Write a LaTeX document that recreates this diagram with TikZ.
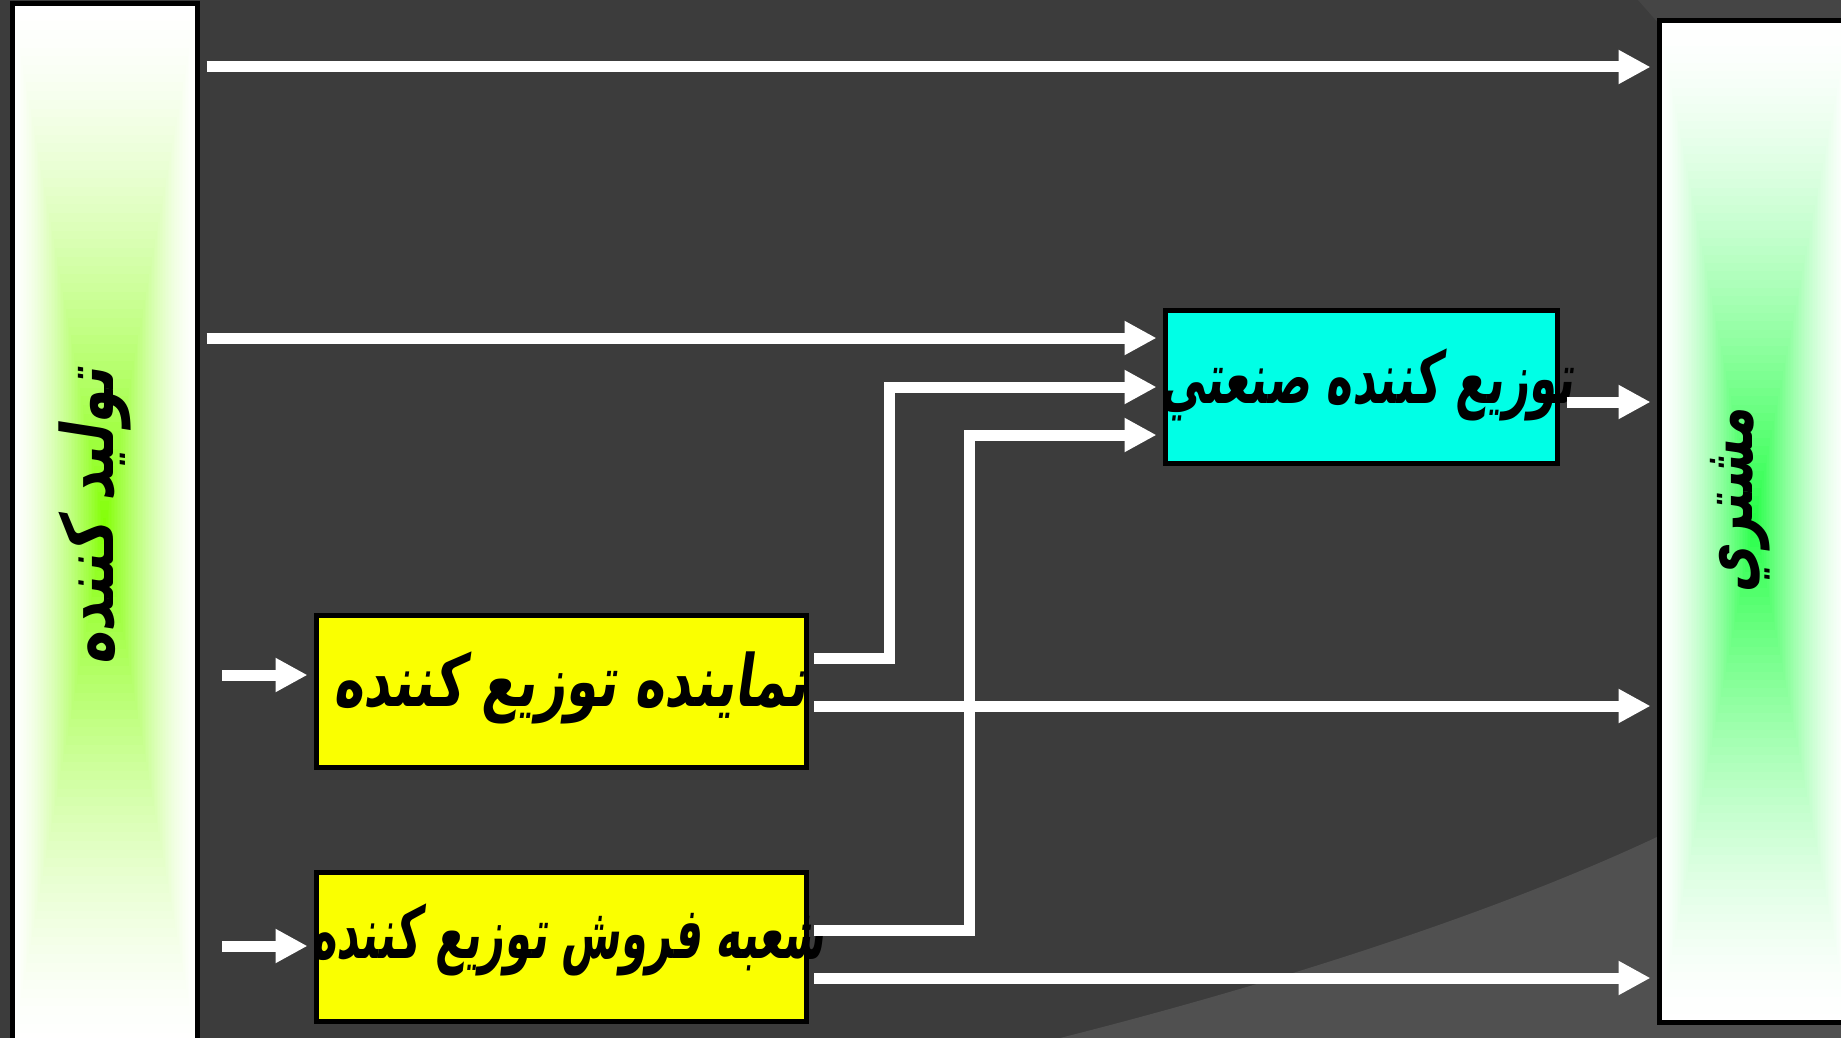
\documentclass[tikz,border=0pt]{standalone}
\usepackage{fontspec}
\usetikzlibrary{arrows.meta}
\TeXXeTstate=1
\newfontfamily\arabicfont[Script=Arabic,FakeSlant=0.2]{DejaVu Sans Bold}
\definecolor{bg}{HTML}{3C3C3C}
\definecolor{bglight}{HTML}{505050}
\definecolor{bgtop}{HTML}{454545}
\definecolor{cyanbox}{HTML}{00FFE6}
\definecolor{yellowbox}{HTML}{FAFF00}
\definecolor{glowL}{HTML}{80FF00}
\definecolor{glowR}{HTML}{22FF44}
\tikzset{
  box/.style={draw=black, line width=5pt, inner sep=0pt},
  lbl/.style={font=\arabicfont\fontsize{72}{80}\selectfont, text=black, inner sep=0pt},
  flow/.style={draw=white, line width=11pt, -{Triangle[length=32pt,width=32pt]}, shorten >=6pt},
}
\begin{document}
\begin{tikzpicture}[x=1pt,y=-1pt]
\useasboundingbox (0,0) rectangle (1841,1038);
\clip (0,0) rectangle (1841,1038);
% background
\fill[bg] (0,0) rectangle (1841,1038);
\fill[bglight] (1060,1038) .. controls (1250,990) and (1480,920) .. (1657,837) -- (1841,760) -- (1841,1038) -- cycle;
\fill[bgtop] (1638,0) -- (1660,25) -- (1841,25) -- (1841,0) -- cycle;
% gradient fills of the side boxes
\foreach \i in {0,...,59}{
  \pgfmathsetmacro\s{\i/60}
  \pgfmathsetmacro\t{1-\s}
  \pgfmathsetmacro\p{100*\s*sqrt(\s)}
  \fill[glowL!\p!white] ({104.5-\t*92.5},{527-\t*523}) rectangle ({104.5+\t*92.5},{527+\t*523});
  \fill[glowR!\p!white] ({1754.5-\t*95.5},{521.5-\t*500.5}) rectangle ({1754.5+\t*95.5},{521.5+\t*500.5});
}
% boxes
\node[box, minimum width=185pt, minimum height=1046pt] (prod) at (104.5,527) {};
\node[box, minimum width=191pt, minimum height=1001pt] (cons) at (1754.5,521.5) {};
\node[box, fill=cyanbox, minimum width=392pt, minimum height=153pt] (ind) at (1361,386.5) {};
\node[box, fill=yellowbox, minimum width=490pt, minimum height=152pt] (rep) at (561,691) {};
\node[box, fill=yellowbox, minimum width=490pt, minimum height=149pt] (br) at (561,946.5) {};
% labels
\node[lbl, rotate=90] (prodT) at (95,517) {\scalebox{0.78}[1]{\beginR تولید کننده\endR}};
\node[lbl, rotate=90] (consT) at (1740,501) {\scalebox{0.72}[1]{\beginR مشتري\endR}};
\node[lbl] (indT) at (1367,385) {\scalebox{0.62}[1]{\beginR توزیع کننده صنعتي\endR}};
\node[lbl] (repT) at (570,688) {\scalebox{0.71}[1]{\beginR نماینده توزیع کننده\endR}};
\node[lbl] (brT) at (568,940) {\scalebox{0.59}[1]{\beginR شعبه فروش توزیع کننده\endR}};
% free starts
\coordinate (in1) at (222,675);
\coordinate (in2) at (222,946);
% connectors
\draw[flow, shorten <=7pt] (prod.east |- 0,67) -- (cons.west |- 0,67);
\draw[flow, shorten <=7pt] (prod.east |- 0,338) -- (ind.west |- 0,338);
\draw[flow] (in1) -- (rep.west |- in1);
\draw[flow] (in2) -- (br.west |- in2);
\draw[flow, shorten <=5.5pt] (rep.east |- 0,658) -- (889,658) |- (ind.west |- 0,387);
\draw[flow, shorten <=5.5pt] (br.east |- 0,930) -- (969,930) |- (ind.west |- 0,435);
\draw[flow, shorten <=5.5pt] (rep.east |- 0,706) -- (cons.west |- 0,706);
\draw[flow, shorten <=5.5pt] (br.east |- 0,978) -- (cons.west |- 0,978);
\draw[flow, shorten <=7pt] (ind.east |- 0,402) -- (cons.west |- 0,402);
\end{tikzpicture}
\end{document}
